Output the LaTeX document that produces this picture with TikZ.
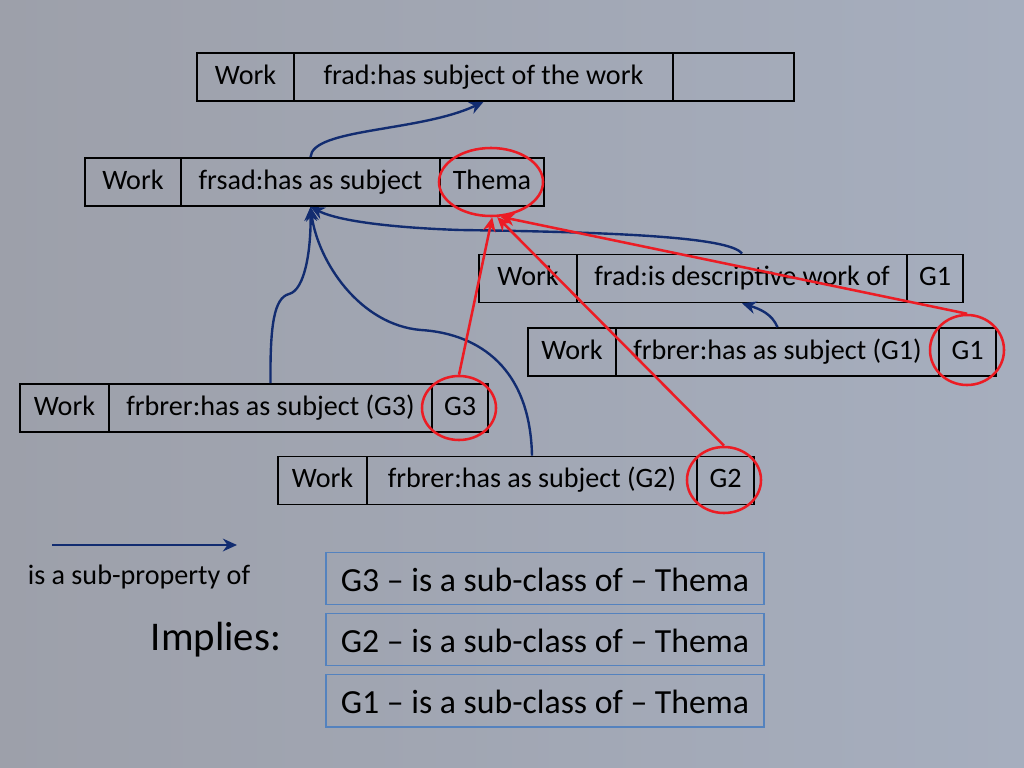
\documentclass[tikz,border=0pt]{standalone}
\usepackage{fontspec}
\setmainfont{Carlito}
\usetikzlibrary{shapes.geometric, arrows.meta}
\definecolor{slideleft}{RGB}{157,160,170}
\definecolor{slideright}{RGB}{166,174,190}
\definecolor{subprop}{RGB}{18,44,112}
\definecolor{ringred}{RGB}{236,28,36}
\definecolor{classblue}{RGB}{84,130,190}

\begin{document}
\begin{tikzpicture}[>={Stealth[length=10pt,width=9pt]}, x=0.025cm, y=-0.025cm,
  cell/.style={draw, line width=1.2pt, minimum height=1.2cm, inner sep=0pt, text height=14pt, text depth=4pt, font=\fontsize{20}{24}\selectfont},
  ringmark/.style={ellipse, draw=ringred, line width=1.8pt, inner sep=0pt},
  redarrow/.style={->, draw=ringred, line width=1.8pt},
  bluearrow/.style={->, draw=subprop, line width=1.7pt},
  classbox/.style={draw=classblue, line width=1.4pt, minimum width=10.95cm, minimum height=1.3cm, inner sep=0pt, text height=21pt, text depth=3pt, font=\fontsize{24}{28}\selectfont}]

\shade[left color=slideleft, right color=slideright] (0,0) rectangle (1024,768);
\useasboundingbox (0,0) rectangle (1024,768);

\node[cell, minimum width=2.425cm] (w0) at (245.5,77) {Work};
\node[cell, minimum width=9.475cm] (hassubj) at (483.5,77) {frad:has subject of the work};
\node[cell, minimum width=3.025cm] (blank) at (733.5,77) {};

\node[cell, minimum width=2.4cm] (w1) at (133,182) {Work};
\node[cell, minimum width=6.475cm] (subj) at (310.5,182) {frsad:has as subject};
\node[cell, minimum width=2.6cm] (thema) at (492,182) {Thema};

\node[cell, minimum width=2.45cm] (w2) at (528,278.5) {Work};
\node[cell, minimum width=8.25cm] (descr) at (742,278.5) {frad:is descriptive work of};
\node[cell, minimum width=1.4cm] (gone) at (935,278.5) {G1};

\node[cell, minimum width=2.2cm] (w3) at (572,352) {Work};
\node[cell, minimum width=8.075cm] (subjgone) at (777.5,352) {frbrer:has as subject (G1)};
\node[cell, minimum width=1.425cm] (gonecls) at (967.5,352) {G1};

\node[cell, minimum width=2.225cm] (w4) at (64.5,408) {Work};
\node[cell, minimum width=8.075cm] (subjgthree) at (270.5,408) {frbrer:has as subject (G3)};
\node[cell, minimum width=1.4cm] (gthree) at (460,408) {G3};

\node[cell, minimum width=2.225cm] (w5) at (322.5,480.5) {Work};
\node[cell, minimum width=8.25cm] (subjgtwo) at (532,480.5) {frbrer:has as subject (G2)};
\node[cell, minimum width=1.425cm] (gtwo) at (725.5,480.5) {G2};

\node[ringmark, minimum width=2.6cm, minimum height=1.7cm] (thring) at (491,182) {};
\node[ringmark, minimum width=1.85cm, minimum height=1.75cm] (gonering) at (967,350) {};
\node[ringmark, minimum width=1.85cm, minimum height=1.65cm] (gtworing) at (724,480) {};
\node[ringmark, minimum width=1.85cm, minimum height=1.6cm] (gthreering) at (459,408) {};

\draw[bluearrow] (subj.north) .. controls (312,128) and (420,132) .. (hassubj.south);
\draw[bluearrow] (subjgthree.north) .. controls (270,325) and (274,298) .. (289,294) .. controls (305,290) and (311,250) .. (subj.south);
\draw[bluearrow] (subjgtwo.north) .. controls (530,360) and (470,333) .. (421,330) .. controls (360,325) and (318,262) .. (subj.south);
\draw[bluearrow] (descr.north) .. controls (730,236) and (600,232) .. (460,230) .. controls (400,228) and (340,222) .. (subj.south);
\draw[bluearrow] (subjgone.north) .. controls (772,314) and (760,309) .. (descr.south);

\draw[redarrow] (gthreering.north) -- (thring.-88);
\draw[redarrow] (gtworing.north) -- (thring.-80);
\draw[redarrow] (gonering.north) -- (thring.-75);

\coordinate (legstart) at (52,545);
\coordinate (legend) at (237,545);
\draw[bluearrow] (legstart) -- (legend);
\node[font=\fontsize{20}{24}\selectfont] (legtext) at (139,577) {is a sub-property of};
\node[font=\fontsize{29}{34}\selectfont] (implies) at (216,640) {Implies:};

\node[classbox] (clsthree) at (545,578.5) {G3 -- is a sub-class of -- Thema};
\node[classbox] (clstwo) at (545,639.5) {G2 -- is a sub-class of -- Thema};
\node[classbox] (clsone) at (545,700.5) {G1 -- is a sub-class of -- Thema};
\end{tikzpicture}
\end{document}
